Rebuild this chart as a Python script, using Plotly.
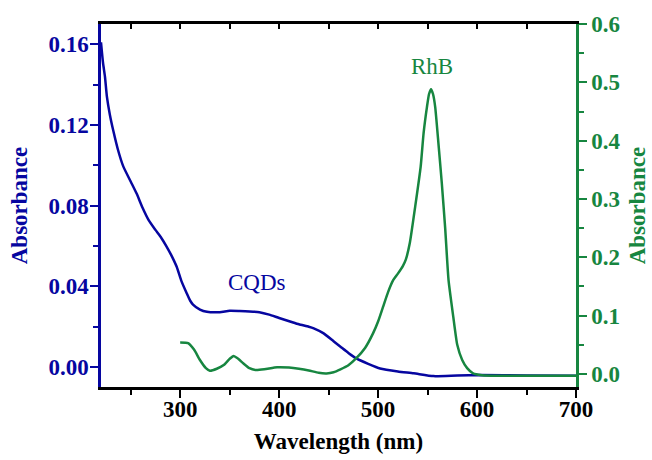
import plotly.graph_objects as go

# CQDs absorbance (left axis)
cqd_nm = [220, 222, 224, 226, 229, 232.5, 237, 242.5, 250, 256, 262, 268, 275, 281, 286,
          291, 296.5, 301, 306.6, 310, 313, 320, 327, 340, 350, 360, 370, 380, 390, 400,
          411, 420, 430, 435, 445, 455, 462, 470, 478, 490, 502, 520, 536, 556, 580, 603,
          650, 700]
cqd_abs = [0.161, 0.151, 0.144, 0.134, 0.125, 0.117, 0.108, 0.0995, 0.092, 0.086, 0.079,
           0.073, 0.068, 0.064, 0.060, 0.0555, 0.0497, 0.043, 0.0366, 0.033, 0.031, 0.0285,
           0.0274, 0.0272, 0.0279, 0.0278, 0.0276, 0.0272, 0.026, 0.0243, 0.0226, 0.0212,
           0.0200, 0.0192, 0.0167, 0.0128, 0.0101, 0.007, 0.0043, 0.0016, -0.0007, -0.0022,
           -0.0031, -0.0045, -0.0042, -0.004, -0.0042, -0.0043]

# RhB absorbance (right axis)
rhb_nm = [300, 308, 314, 320, 326, 330, 337, 344, 350, 354, 358, 364, 370, 376, 385, 398,
          410, 420, 430, 440, 448, 455, 462, 470, 478, 487, 495, 500, 505, 510, 515, 520,
          525, 528, 532, 537.5, 543, 546, 549.4, 551.5, 553.5, 555.5, 557.7, 561, 564.4,
          567.8, 571.2, 576, 580, 585, 590, 596, 605, 620, 700]
rhb_abs = [0.054, 0.053, 0.042, 0.024, 0.010, 0.0057, 0.009, 0.0154, 0.026, 0.031, 0.027,
           0.018, 0.010, 0.0069, 0.008, 0.0115, 0.011, 0.009, 0.006, 0.002, 0.001, 0.003,
           0.008, 0.015, 0.027, 0.045, 0.07, 0.09, 0.115, 0.14, 0.160, 0.172, 0.185, 0.196,
           0.224, 0.287, 0.355, 0.413, 0.458, 0.480, 0.488, 0.480, 0.458, 0.395, 0.327,
           0.25, 0.161, 0.098, 0.05, 0.024, 0.01, 0.001, -0.002, -0.003, -0.003]

BLUE = "#0606a0"
GREEN = "#178640"
FONT = "Liberation Serif"

fig = go.Figure()
fig.add_trace(go.Scatter(x=cqd_nm, y=cqd_abs, mode="lines", line=dict(color=BLUE, width=2.5, shape="spline", smoothing=0.5),
                         yaxis="y", showlegend=False, hoverinfo="skip"))
fig.add_trace(go.Scatter(x=rhb_nm, y=rhb_abs, mode="lines", line=dict(color=GREEN, width=2.5, shape="spline", smoothing=0.5),
                         yaxis="y2", showlegend=False, hoverinfo="skip"))
# invisible trace for top mirror axis
fig.add_trace(go.Scatter(x=[None], y=[None], xaxis="x2", yaxis="y", showlegend=False, hoverinfo="skip"))

tickfont = dict(family=FONT, size=23, weight="bold")

fig.update_layout(
    width=652, height=460,
    margin=dict(l=101, r=76, t=24, b=73),
    plot_bgcolor="white", paper_bgcolor="white",
    xaxis=dict(range=[220, 700], tick0=0, dtick=100, ticks="outside", ticklen=8, tickwidth=2,
               tickcolor="black", linecolor="black", linewidth=2.5, showgrid=False, zeroline=False,
               automargin=False, tickfont=dict(color="black", **tickfont), ticklabelstandoff=-8,
               minor=dict(dtick=50, tick0=0, ticks="outside", ticklen=5, tickwidth=2, tickcolor="black"),
               title=dict(text="Wavelength (nm)", font=dict(family=FONT, size=23, weight="bold", color="black"),
                          standoff=12)),
    xaxis2=dict(range=[220, 700], overlaying="x", side="top", anchor="y", tick0=0, dtick=50,
                ticks="inside", ticklen=5, tickwidth=2, tickcolor="black", linecolor="black",
                linewidth=2.5, showline=True, showticklabels=False, showgrid=False, zeroline=False,
                automargin=False),
    yaxis=dict(range=[-0.0099, 0.1701], tick0=0, dtick=0.04, tickformat=".2f", ticks="outside",
               ticklen=8, tickwidth=2, tickcolor=BLUE, linecolor=BLUE, linewidth=2.5, showgrid=False,
               zeroline=False, automargin=False, tickfont=dict(color=BLUE, **tickfont), ticklabelstandoff=-3,
               minor=dict(dtick=0.02, tick0=0, ticks="outside", ticklen=5, tickwidth=2, tickcolor=BLUE),
               title=dict(text="Absorbance", font=dict(family=FONT, size=23, weight="bold", color=BLUE),
                          standoff=15)),
    yaxis2=dict(range=[-0.0223, 0.6], overlaying="y", side="right", anchor="x", tick0=0, dtick=0.1,
                tickformat=".1f", ticks="outside", ticklen=8, tickwidth=2, tickcolor=GREEN,
                linecolor=GREEN, linewidth=2.5, showline=True, showgrid=False, zeroline=False,
                automargin=False, tickfont=dict(color=GREEN, **tickfont),
                minor=dict(dtick=0.05, tick0=0, ticks="outside", ticklen=5, tickwidth=2, tickcolor=GREEN),
                title=dict(text="Absorbance", font=dict(family=FONT, size=23, weight="bold", color=GREEN),
                           standoff=10)),
    annotations=[
        dict(text="CQDs", x=378, y=0.042, xref="x", yref="y", showarrow=False,
             font=dict(family=FONT, size=23, color=BLUE)),
        dict(text="RhB", x=554, y=0.527, xref="x", yref="y2", showarrow=False,
             font=dict(family=FONT, size=23, color=GREEN)),
    ],
)
fig.update_xaxes(showline=True)
fig.update_yaxes(showline=True)

fig.write_html("out.html", config={"displayModeBar": False},
               post_script="document.body.style.margin='0';document.body.style.overflow='hidden';")
